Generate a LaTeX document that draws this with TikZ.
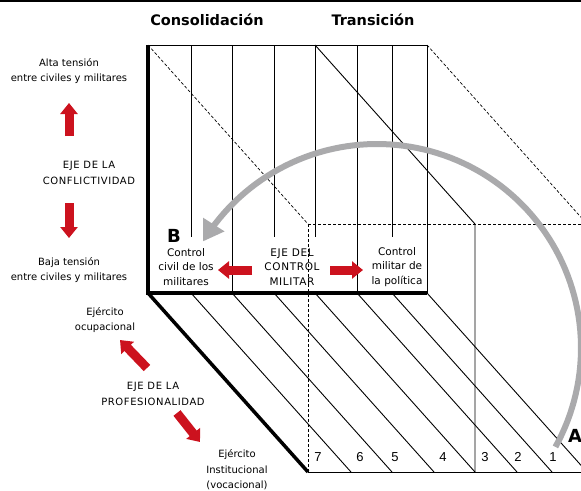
\documentclass[tikz,border=0pt]{standalone}
\usepackage{fontspec}
\setmainfont{DejaVu Sans}
\newfontfamily\spc[LetterSpace=6]{DejaVu Sans}
\newfontfamily\numf{Liberation Sans}
\usetikzlibrary{arrows.meta}
\definecolor{myred}{RGB}{204,18,30}
\definecolor{arcgray}{RGB}{170,170,172}
\begin{document}
\begin{tikzpicture}[x=1pt,y=-1pt,
  thinline/.style={line width=0.9pt},
  thickedge/.style={line width=3.5pt},
  hidden/.style={line width=0.7pt, dash pattern=on 3pt off 2pt},
  redarrow/.style={draw=myred, line width=9pt, -{Triangle[length=11pt,width=17pt]}},
  lbl/.style={align=center, font=\fontsize{10}{15.5}\selectfont, inner sep=0pt},
  caps/.style={align=center, font=\spc\fontsize{10}{15.5}\selectfont, inner sep=0pt},
  box/.style={align=center, font=\fontsize{10.5}{14.5}\selectfont, inner sep=0pt},
  boxcaps/.style={align=center, font=\spc\fontsize{10.5}{14.5}\selectfont, inner sep=0pt},
  title/.style={font=\bfseries\fontsize{14.5}{17}\selectfont, inner sep=0pt},
  bigl/.style={font=\bfseries\fontsize{18}{20}\selectfont, inner sep=0pt},
  num/.style={font=\numf\fontsize{13}{15}\selectfont, inner sep=0pt},
]
\useasboundingbox (0,0) rectangle (581,490);
\clip (0,0) rectangle (581,490);

% top border
\draw[line width=1.5pt] (0,1) -- (581,1);

% hidden edges (dashed)
\draw[hidden] (148,45) -- (308,224);
\draw[hidden] (427,45) -- (587,224);
\draw[hidden] (308,224) -- (590,224);
\draw[hidden] (308,224) -- (308,472);

% back face solid lines
\draw[thinline] (315,45) -- (475,224) -- (475,472);
\draw[thinline] (308,472) -- (590,472);

% floor diagonals
\foreach \s in {191,232,274,315,357,392,427}
  \draw[thinline] (\s,293) -- ({\s+160},472);

% front face
\draw[thinline] (148,45) -- (427,45) -- (427,293);
\foreach \s in {232,357}
  \draw[thinline] (\s,45) -- (\s,293);
\foreach \s in {191,274,315,392}
  \draw[thinline] (\s,45) -- (\s,237);

% thick edges
\draw[thickedge] (148,45) -- (148,293) -- (427,293);
\draw[thickedge, line join=miter] (148,293) -- (308,472);

% numbers
\node[num] (n7) at (318,457) {7};
\node[num] (n6) at (360,457) {6};
\node[num] (n5) at (395,457) {5};
\node[num] (n4) at (443,457) {4};
\node[num] (n3) at (485,457) {3};
\node[num] (n2) at (518,457) {2};
\node[num] (n1) at (553,457) {1};

% gray arc
\draw[arcgray, line width=6pt, -{Triangle[length=20pt,width=24pt]}]
  plot[domain=-29:148.5, samples=90] ({377+204*cos(\x)},{348-204*sin(\x)});

% titles
\node[title] (cons) at (207,20) {Consolidación};
\node[title] (trans) at (373,20) {Transición};

% left labels
\node[lbl] (alta) at (69,71) {Alta tensión\\entre civiles y militares};
\node[caps] (ejeconf) at (89,173) {EJE DE LA\\CONFLICTIVIDAD};
\node[lbl] (baja) at (69,270) {Baja tensión\\entre civiles y militares};
\node[lbl] (ocup) at (105,320) {Ejército\\ocupacional};
\node[caps] (ejeprof) at (153,394) {EJE DE LA\\PROFESIONALIDAD};
\node[lbl] (inst) at (237,470) {Ejército\\Institucional\\(vocacional)};

% box texts
\node[box] (civil) at (186,267) {Control\\civil de los\\militares};
\node[boxcaps] (ejecm) at (292,267) {EJE DEL\\CONTROL\\MILITAR};
\node[box] (milpol) at (397,267) {Control\\militar de\\la política};
\node[bigl] (B) at (174,236) {B};
\node[bigl] (A) at (575,436) {A};

% red arrows
\coordinate (u1) at (69,136); \coordinate (u2) at (69,103);
\coordinate (d1) at (69,203); \coordinate (d2) at (69,238);
\coordinate (l1) at (252,270); \coordinate (l2) at (218,270);
\coordinate (r1) at (330,270); \coordinate (r2) at (363,270);
\coordinate (ul1) at (147,368); \coordinate (ul2) at (120,340);
\coordinate (dr1) at (177,413); \coordinate (dr2) at (200,442);
\draw[redarrow] (u1) -- (u2);
\draw[redarrow] (d1) -- (d2);
\draw[redarrow] (l1) -- (l2);
\draw[redarrow] (r1) -- (r2);
\draw[redarrow] (ul1) -- (ul2);
\draw[redarrow] (dr1) -- (dr2);
\end{tikzpicture}
\end{document}
